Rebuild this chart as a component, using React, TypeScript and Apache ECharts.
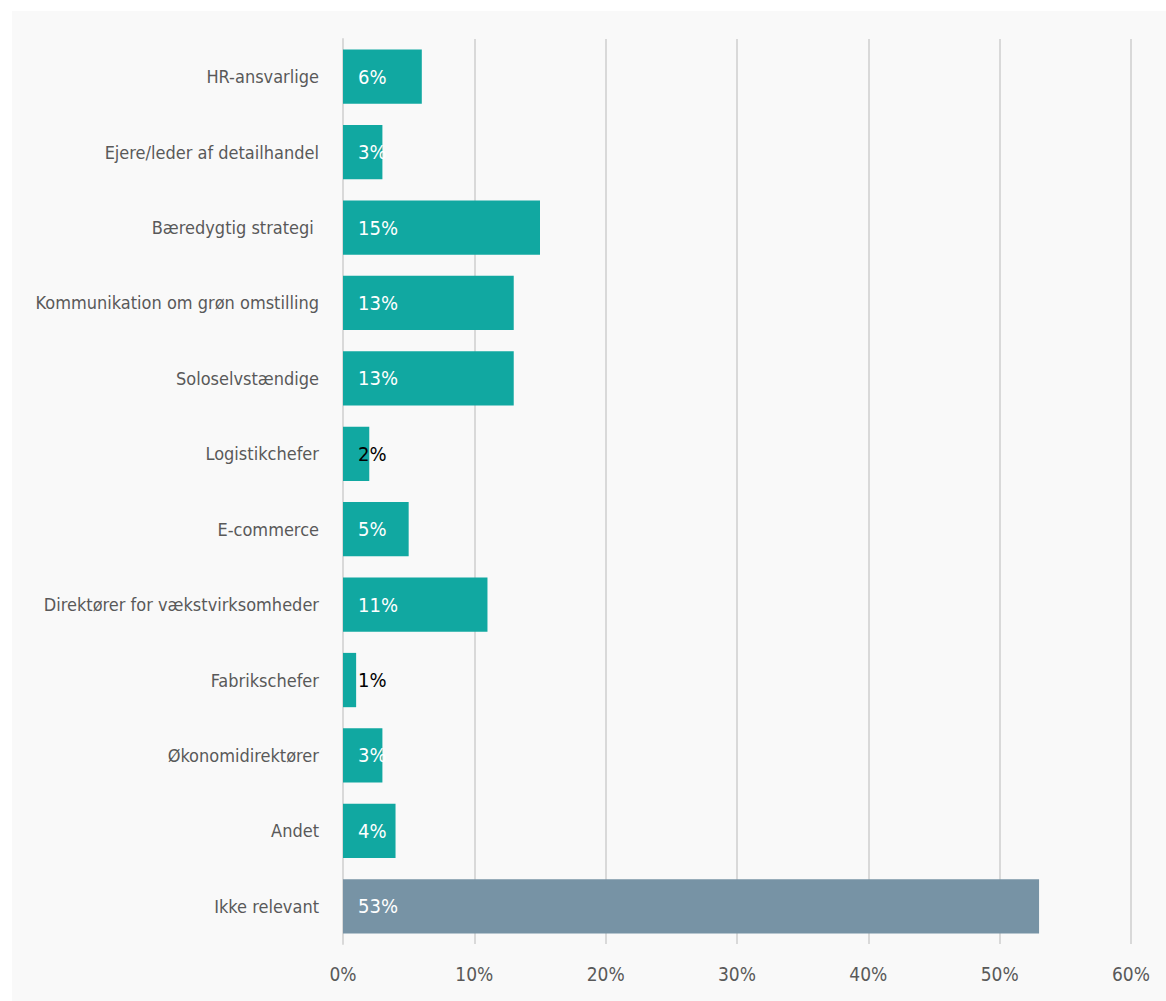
import React, { useEffect, useRef } from "react";
import * as echarts from "echarts";

const categories = [
  "HR-ansvarlige",
  "Ejere/leder af detailhandel",
  "Bæredygtig strategi ",
  "Kommunikation om grøn omstilling",
  "Soloselvstændige",
  "Logistikchefer",
  "E-commerce",
  "Direktører for vækstvirksomheder",
  "Fabrikschefer",
  "Økonomidirektører",
  "Andet",
  "Ikke relevant",
];
const values = [6, 3, 15, 13, 13, 2, 5, 11, 1, 3, 4, 53];
const xTicks = [0, 10, 20, 30, 40, 50, 60];

const TEAL = "#11a8a1";
const SLATE = "#7793a5";
const FONT = "'DejaVu Sans Condensed', 'Liberation Sans Narrow', sans-serif";

export default function App() {
  const ref = useRef<HTMLDivElement>(null);
  useEffect(() => {
    if (!ref.current) return;
    const chart = echarts.init(ref.current, null, { renderer: "svg" });
    const data = values.map((v, i) => ({
      value: v,
      itemStyle: { color: i === values.length - 1 ? SLATE : TEAL },
      label: { color: v <= 2 ? "#000000" : "#ffffff" },
    }));
    chart.setOption({
      animation: false,
      backgroundColor: "#ffffff",
      graphic: [
        {
          type: "rect",
          z: -10,
          silent: true,
          shape: { x: 12, y: 11, width: 1154, height: 990 },
          style: { fill: "#f9f9f9" },
        },
      ],
      grid: {
        left: 343,
        right: 35,
        top: 39,
        bottom: 57,
        containLabel: false,
        outerBoundsMode: "none",
      },
      xAxis: {
        type: "value",
        min: xTicks[0],
        max: xTicks[xTicks.length - 1],
        interval: 10,
        axisLine: { show: false },
        axisTick: { show: false },
        splitLine: { show: true, lineStyle: { color: "#d9d9d9", width: 2 } },
        axisLabel: {
          formatter: "{value}%",
          color: "#595959",
          fontFamily: FONT,
          fontSize: 19,
          margin: 20,
        },
      },
      yAxis: {
        type: "category",
        inverse: true,
        data: categories,
        axisLine: { show: true, lineStyle: { color: "#d9d9d9", width: 2 } },
        axisTick: { show: false },
        axisLabel: {
          color: "#595959",
          fontFamily: FONT,
          fontSize: 18,
          margin: 24,
        },
      },
      series: [
        {
          type: "bar",
          data,
          barCategoryGap: "28%",
          label: {
            show: true,
            position: "insideLeft",
            distance: 15,
            formatter: "{c}%",
            fontFamily: FONT,
            fontSize: 20,
          },
        },
      ],
    });
    return () => chart.dispose();
  }, []);
  return (
    <div
      ref={ref}
      style={{ position: "fixed", left: 0, top: 0, width: 1166, height: 1001 }}
    />
  );
}
